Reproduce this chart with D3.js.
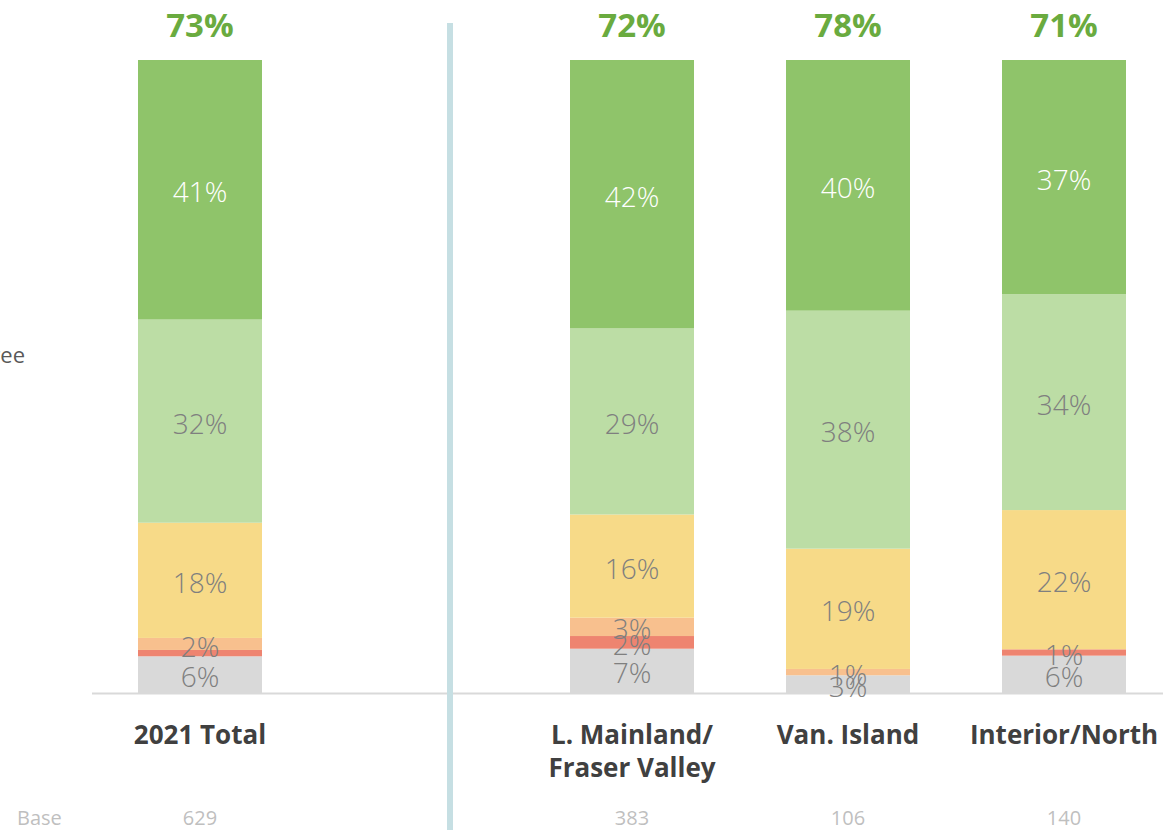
<!DOCTYPE html>
<html lang="en">
<head>
  <meta charset="utf-8" />
  <title>Agreement by region</title>
  <script src="https://d3js.org/d3.v7.min.js"></script>
  <style>
    body { margin: 0; background: #fff; }
    svg { display: block; font-family: "Open Sans", "Noto Sans", sans-serif; }
  </style>
</head>
<body>
<svg width="1163" height="830"></svg>
<script>
// categories (an empty slot holds the divider)
var categories = ["2021 Total", "gap", "L. Mainland/\nFraser Valley", "Van. Island", "Interior/North"];
var bases = ["629", "", "383", "106", "140"];
var topLabels = ["73%", "", "72%", "78%", "71%"];

// segments from bottom to top
var segments = ["Don't know", "Strongly disagree", "Somewhat disagree", "Neither", "Somewhat agree", "Strongly agree"];
var dontKnow       = [5.8, null, 7.0, 2.8, 5.9];
var strongDisagree = [1.0, null, 2.0, 0, 1.0];
var someDisagree   = [1.9, null, 2.9, 1.0, 0];
var neither        = [18.2, null, 16.3, 19.0, 22.0];
var someAgree      = [32.1, null, 29.4, 37.6, 34.1];
var strongAgree    = [41.0, null, 42.4, 39.6, 37.0];

var colors = ["#d9d9d9", "#ee8470", "#f8c08e", "#f7da88", "#bcdda5", "#8fc46a"];
var labelColors = ["#7f7f7f", "#7f7f7f", "#7f7f7f", "#7f7f7f", "#7f7f7f", "#ffffff"];

var rows = categories.map(function (c, i) {
  return {
    cat: c, i: i,
    "Don't know": dontKnow[i], "Strongly disagree": strongDisagree[i],
    "Somewhat disagree": someDisagree[i], "Neither": neither[i],
    "Somewhat agree": someAgree[i], "Strongly agree": strongAgree[i]
  };
}).filter(function (d) { return d.cat !== "gap"; });

var svg = d3.select("svg");

var x = d3.scaleBand().domain(d3.range(categories.length))
  .range([73.2, 1190.8]).paddingInner(0.426).paddingOuter(0.3);
var y = d3.scaleLinear().domain([0, 100]).range([693, 60]);

var stack = d3.stack().keys(segments).value(function (d, k) { return d[k] || 0; });
var series = stack(rows);

// baseline
svg.append("line")
  .attr("x1", 92).attr("x2", 1163)
  .attr("y1", 693.5).attr("y2", 693.5)
  .attr("stroke", "#d9d9d9").attr("stroke-width", 2);

var groups = svg.append("g").selectAll("g")
  .data(series).enter().append("g")
  .attr("fill", function (d, i) { return colors[i]; });

groups.selectAll("rect")
  .data(function (d) { return d; })
  .enter().append("rect")
  .attr("x", function (d) { return x(d.data.i); })
  .attr("width", x.bandwidth())
  .attr("y", function (d) { return y(d[1]); })
  .attr("height", function (d) { return y(d[0]) - y(d[1]); });

// segment labels
var labels = svg.append("g");
series.forEach(function (s, si) {
  s.forEach(function (d) {
    var v = d[1] - d[0];
    if (!v) return;
    if (si === 1 && d.data.cat === "2021 Total") return;
    labels.append("text")
      .attr("x", x(d.data.i) + x.bandwidth() / 2)
      .attr("y", (y(d[0]) + y(d[1])) / 2)
      .attr("dy", "0.45em")
      .attr("text-anchor", "middle")
      .attr("font-size", 28)
      .attr("font-weight", 300)
      .attr("fill", labelColors[si])
      .text(Math.round(v) + "%");
  });
});

// top totals
svg.append("g").selectAll("text")
  .data(rows).enter().append("text")
  .attr("x", function (d) { return x(d.i) + x.bandwidth() / 2; })
  .attr("y", 37)
  .attr("text-anchor", "middle")
  .attr("font-size", 33)
  .attr("font-weight", "bold")
  .attr("fill", "#6aab3f")
  .text(function (d) { return topLabels[d.i]; });

// category labels
var cats = svg.append("g").selectAll("text")
  .data(rows).enter().append("text")
  .attr("x", function (d) { return x(d.i) + x.bandwidth() / 2; })
  .attr("y", 744)
  .attr("text-anchor", "middle")
  .attr("font-size", 26)
  .attr("font-weight", "bold")
  .attr("fill", "#404040");
cats.selectAll("tspan")
  .data(function (d) { return d.cat.split("\n"); })
  .enter().append("tspan")
  .attr("x", function () { var p = d3.select(this.parentNode).datum(); return x(p.i) + x.bandwidth() / 2; })
  .attr("dy", function (d, i) { return i ? 33 : 0; })
  .text(function (d) { return d; });

// base row
svg.append("text")
  .attr("x", 17).attr("y", 825)
  .attr("font-size", 20).attr("fill", "#bfbfbf")
  .text("Base");
svg.append("g").selectAll("text")
  .data(rows).enter().append("text")
  .attr("x", function (d) { return x(d.i) + x.bandwidth() / 2; })
  .attr("y", 825)
  .attr("text-anchor", "middle")
  .attr("font-size", 20)
  .attr("fill", "#bfbfbf")
  .text(function (d) { return bases[d.i]; });

// divider
svg.append("rect")
  .attr("x", 447).attr("y", 23)
  .attr("width", 6).attr("height", 830 - 23)
  .attr("fill", "#c6dfe3");

// clipped legend text at the left edge
svg.append("text")
  .attr("x", 25).attr("y", 363)
  .attr("text-anchor", "end")
  .attr("font-size", 22)
  .attr("fill", "#595959")
  .text("Agree");
</script>
</body>
</html>
